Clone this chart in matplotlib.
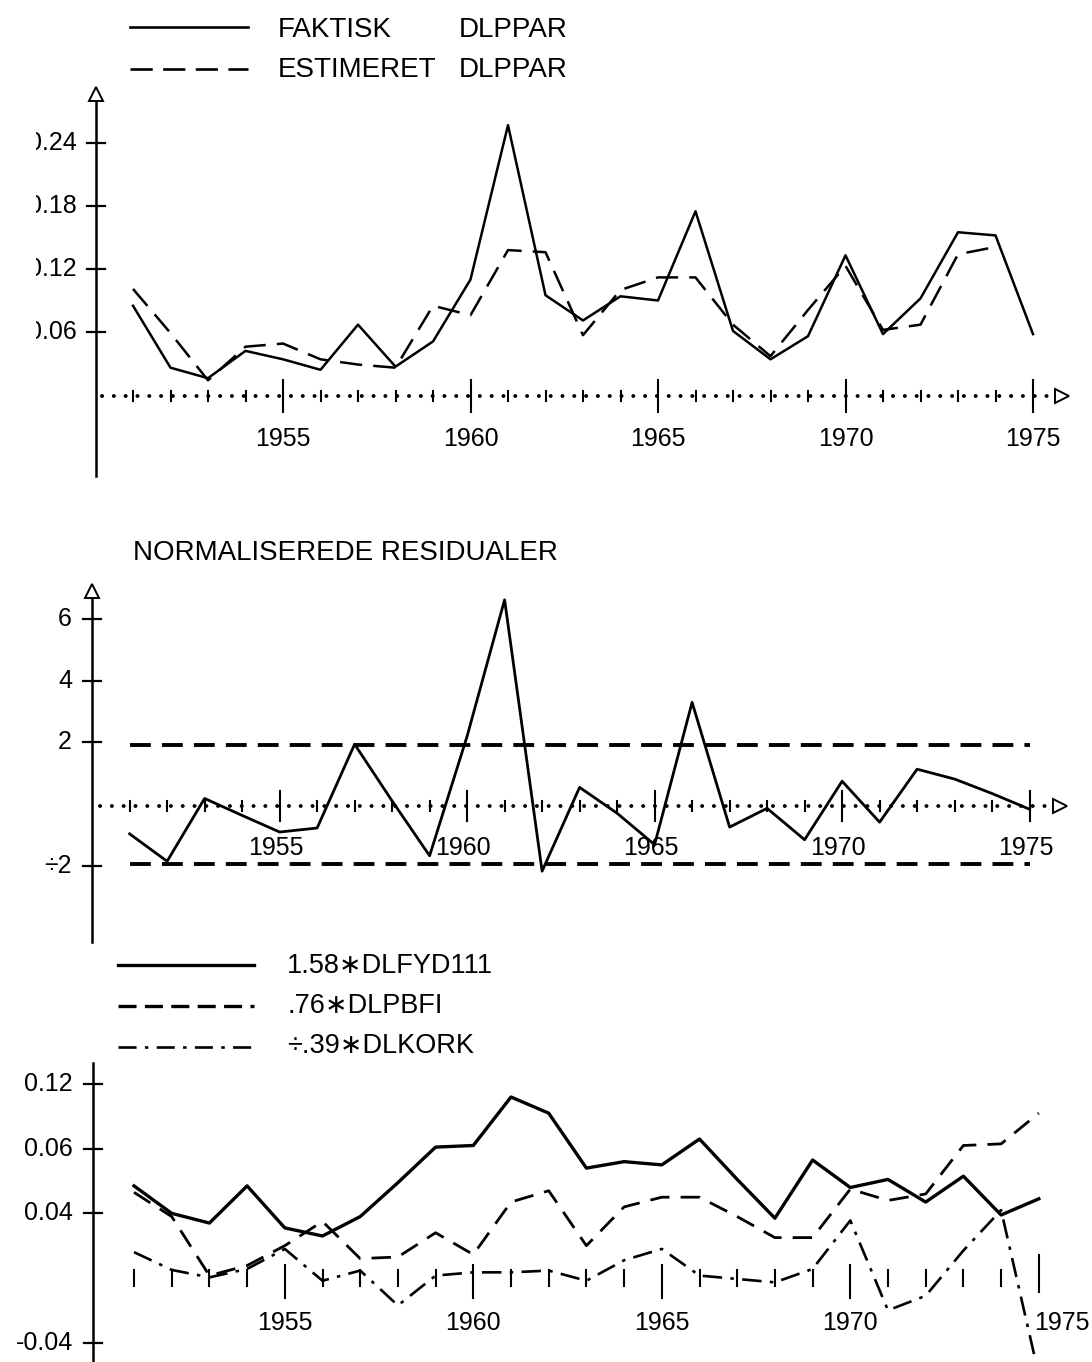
import matplotlib
matplotlib.use("Agg")
import matplotlib.pyplot as plt
from matplotlib.transforms import Bbox, TransformedBbox

plt.rcParams['font.family'] = ['Liberation Sans', 'DejaVu Sans']
plt.rcParams['lines.scale_dashes'] = False

# ---------------- data ----------------
years = list(range(1951, 1976))

faktisk_dlppar = [0.085, 0.026, 0.016, 0.042, 0.034, 0.024, 0.067, 0.027, 0.051, 0.110,
                  0.257, 0.095, 0.071, 0.094, 0.090, 0.175, 0.061, 0.034, 0.056, 0.133,
                  0.058, 0.092, 0.155, 0.152, 0.058]
estimeret_years = list(range(1951, 1975))
estimeret_dlppar = [0.101, 0.059, 0.014, 0.046, 0.049, 0.034, 0.029, 0.026, 0.085, 0.076,
                    0.138, 0.136, 0.057, 0.100, 0.112, 0.112, 0.067, 0.037, 0.081, 0.123,
                    0.062, 0.067, 0.134, 0.141]

residualer = [-0.97, -1.86, 0.18, -0.37, -0.91, -0.78, 1.94, 0.10, -1.68, 2.2,
              6.63, -2.18, 0.54, -0.30, -1.32, 3.30, -0.75, -0.14, -1.16, 0.74,
              -0.59, 1.13, 0.81, 0.34, -0.17]
band_levels = [1.9, -1.95]

dlfyd111 = [0.057, 0.040, 0.034, 0.057, 0.031, 0.026, 0.038, 0.059, 0.081, 0.082,
            0.112, 0.102, 0.068, 0.072, 0.070, 0.086, 0.061, 0.037, 0.073, 0.056,
            0.061, 0.047, 0.063, 0.039, 0.049]
dlpbfi = [0.053, 0.038, 0.0015, 0.0077, 0.020, 0.035, 0.012, 0.013, 0.028, 0.0145,
          0.047, 0.054, 0.020, 0.044, 0.050, 0.050, 0.038, 0.025, 0.025, 0.055,
          0.048, 0.052, 0.082, 0.083, 0.102]
dlkork = [0.016, 0.005, 0.0004, 0.0056, 0.018, -0.0017, 0.0046, -0.017, 0.0015, 0.0035,
          0.0035, 0.0046, -0.0017, 0.011, 0.018, 0.0015, -0.0006, -0.0027, 0.0056, 0.0356,
          -0.020, -0.011, 0.017, 0.042, -0.060]

top_ticks = [0.24, 0.18, 0.12, 0.06]
top_labels = ["0.24", "0.18", "0.12", "0.06"]
mid_ticks = [6, 4, 2, -2]
mid_labels = ["6", "4", "2", "\u00f72"]
bot_ticks = [0.12, 0.08, 0.04, -0.04]
bot_labels = ["0.12", "0.06", "0.04", "-0.04"]
year_labels = [1955, 1960, 1965, 1970, 1975]

# ---------------- layout ----------------
W, H = 1092, 1362
fig = plt.figure(figsize=(W / 100, H / 100), dpi=100)
FS = 18      # tick labels
FSL = 20     # legend / title
K = 'black'

ov = fig.add_axes([0, 0, 1, 1])
ov.set_xlim(0, W)
ov.set_ylim(H, 0)
ov.axis('off')

clipbox = TransformedBbox(Bbox([[36 / W, 0], [1, 1]]), fig.transFigure)


def panel(T, B, x0, ppy, zero, ppu):
    ax = fig.add_axes([0, 1 - B / H, 1, (B - T) / H])
    ax.set_xlim(1951 + (0 - x0) / ppy, 1951 + (W - x0) / ppy)
    ax.set_ylim((zero - B) / ppu, (zero - T) / ppu)
    ax.axis('off')
    fx = lambda px: 1951 + (px - x0) / ppy
    fy = lambda py: (zero - py) / ppu
    return ax, fx, fy


DOT = (0, (0.1, 8.4))


def dotted_axis(ax, fx, fy, py, x_start, x_end, arrow_x):
    ax.plot([fx(x_start), fx(x_end)], [fy(py)] * 2, color=K, lw=2.8, linestyle=DOT,
            dash_capstyle='round', clip_on=False)
    ax.plot(fx(arrow_x), fy(py), marker='>', ms=10, mfc='white', mec=K, mew=1.4,
            clip_on=False)


def year_ticks(ax, fx, fy, py, minor, major):
    for yr in years:
        h = major if yr % 5 == 0 else minor
        ax.plot([yr, yr], [fy(py - h), fy(py + h)], color=K, lw=1.5, clip_on=False)


def yaxis(ax, fx, fy, px, top, bottom, ticks, labels, lab_px, arrow=True, clip=False):
    ax.plot([fx(px)] * 2, [fy(top), fy(bottom)], color=K, lw=1.8, clip_on=False)
    if arrow:
        ax.plot(fx(px), fy(top - 6), marker='^', ms=10, mfc='white', mec=K, mew=1.4,
                clip_on=False)
    for v, lab in zip(ticks, labels):
        ax.plot([fx(px - 9), fx(px + 9)], [v, v], color=K, lw=1.6, clip_on=False)
        t = ax.text(fx(lab_px), v, lab, ha='right', va='center', fontsize=FS,
                    clip_on=False)
        if clip:
            t.set_clip_box(clipbox)
            t.set_clip_on(True)


# ---------------- top panel ----------------
ax1, fx1, fy1 = panel(80, 485, 133, 37.5, 395, 1050)
yaxis(ax1, fx1, fy1, 96, 100, 476, top_ticks, top_labels, 77, arrow=True, clip=True)
dotted_axis(ax1, fx1, fy1, 396, 102, 1050, 1062)
year_ticks(ax1, fx1, fy1, 396, 5, 16)
for yr in year_labels:
    ax1.text(yr, fy1(439), str(yr), ha='center', va='center', fontsize=FS)
ax1.plot(years, faktisk_dlppar, color=K, lw=1.8, clip_on=False)
ax1.plot(estimeret_years, estimeret_dlppar, color=K, lw=1.8, dashes=(16, 8), clip_on=False)

# top legend
ov.plot([130, 248], [27, 27], color=K, lw=1.9)
ov.plot([130, 248], [69, 69], color=K, lw=1.9, dashes=(16, 7.5))
ov.text(278, 30, "FAKTISK", ha='left', va='center', fontsize=FSL)
ov.text(459, 30, "DLPPAR", ha='left', va='center', fontsize=FSL)
ov.text(278, 70, "ESTIMERET", ha='left', va='center', fontsize=FSL)
ov.text(459, 70, "DLPPAR", ha='left', va='center', fontsize=FSL)

# ---------------- middle panel ----------------
ax2, fx2, fy2 = panel(560, 945, 129.6, 37.5, 804, 30.8)
yaxis(ax2, fx2, fy2, 92, 597, 942, mid_ticks, mid_labels, 72, arrow=True)
dotted_axis(ax2, fx2, fy2, 806, 100, 1048, 1060)
year_ticks(ax2, fx2, fy2, 806, 5, 15)
for yr in year_labels:
    ax2.text(yr - 0.1, fy2(848), str(yr), ha='center', va='center', fontsize=FS)
ov.text(133, 553, "NORMALISEREDE RESIDUALER", ha='left', va='center', fontsize=FSL)
for lvl in band_levels:
    ax2.plot([years[0], years[-1]], [lvl, lvl], color=K, lw=2.8, dashes=(15, 8),
             clip_on=False)
ax2.plot(years, residualer, color=K, lw=2.0, clip_on=False)

# ---------------- bottom panel ----------------
ax3, fx3, fy3 = panel(1055, 1362, 134, 37.7, 1278, 1616)
yaxis(ax3, fx3, fy3, 93, 1063, 1362, bot_ticks, bot_labels, 73, arrow=False)
for yr in years:
    if yr == 1975:
        a, b = 1255, 1292
    elif yr % 5 == 0:
        a, b = 1265, 1298
    else:
        a, b = 1270, 1286
    ax3.plot([yr, yr], [fy3(a), fy3(b)], color=K, lw=1.5, clip_on=False)
for yr in year_labels:
    xo = 0.62 if yr == 1975 else 0.0
    ax3.text(yr + xo, fy3(1323), str(yr), ha='center', va='center', fontsize=FS)
ax3.plot(years, dlfyd111, color=K, lw=2.4, clip_on=True)
ax3.plot(years, dlpbfi, color=K, lw=2.0, dashes=(14, 8), clip_on=True)
ax3.plot(years, dlkork, color=K, lw=1.9, dashes=(14, 6, 2.5, 6), clip_on=True)

# bottom legend
ov.plot([118, 254], [965, 965], color=K, lw=2.4)
ov.plot([118, 254], [1006, 1006], color=K, lw=2.4, dashes=(13, 6))
ov.plot([118, 254], [1047, 1047], color=K, lw=1.9, dashes=(13, 6, 2.5, 6))
ov.text(287, 966, "1.58\u2217DLFYD111", ha='left', va='center', fontsize=19.5)
ov.text(287, 1006, ".76\u2217DLPBFI", ha='left', va='center', fontsize=19.5)
ov.text(287, 1046, "\u00f7.39\u2217DLKORK", ha='left', va='center', fontsize=19.5)

fig.savefig("out.png", dpi=100)
